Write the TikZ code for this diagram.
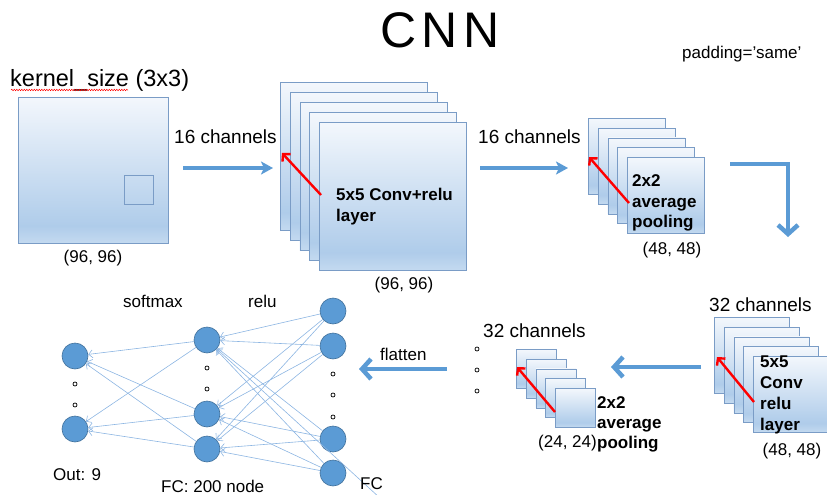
\documentclass[tikz,border=0pt]{standalone}
\usepackage{fontspec}
\setmainfont{Liberation Sans}
\usetikzlibrary{arrows.meta,decorations.pathmorphing}
\definecolor{nodeblue}{HTML}{5B9BD5}
\definecolor{nodeedge}{HTML}{41719C}
\definecolor{boxedge}{HTML}{7A9CC6}
\definecolor{linkblue}{HTML}{8CB5E2}
\definecolor{gTop}{HTML}{F3F7FC}
\definecolor{gDark}{HTML}{AFCCEA}
\definecolor{gBot}{HTML}{C4DAF0}
\pgfdeclareverticalshading{boxgrad}{100bp}{color(0bp)=(gBot); color(25bp)=(gBot); color(31bp)=(gDark); color(75bp)=(gTop); color(100bp)=(gTop)}
\begin{document}
\begin{tikzpicture}[x=1pt,y=-1pt,
  sq/.style={draw=boxedge, line width=0.8pt, shading=boxgrad, inner sep=0pt, anchor=north west},
  neuron/.style={circle, fill=nodeblue, draw=nodeedge, line width=0.6pt, minimum size=26pt, inner sep=0pt},
  dotc/.style={circle, draw=black, fill=white, line width=0.7pt, minimum size=4pt, inner sep=0pt},
  link/.style={draw=linkblue, line width=0.6pt, -{Straight Barb[length=4pt,width=8pt]}},
  redarr/.style={draw=red, line width=2.4pt, -{Straight Barb[length=5pt,width=11pt]}},
  rarr/.style={draw=nodeblue, line width=4pt, -{Stealth[length=12pt,width=13pt,inset=3pt]}},
  bigarr/.style={draw=nodeblue, line width=4.5pt, line join=miter, -{Straight Barb[length=9pt,width=20pt]}},
  lbl/.style={font=\fontsize{17}{21}\selectfont, inner sep=0pt},
  blbl/.style={font=\fontsize{17}{21}\selectfont\bfseries, inner sep=0pt, anchor=base west},
  chl/.style={font=\fontsize{19}{23}\selectfont, inner sep=0pt, anchor=base west}
]
\useasboundingbox (0,0) rectangle (827,495);

% title
\node[inner sep=0pt, anchor=base, font=\fontsize{50}{50}\selectfont\addfontfeatures{LetterSpace=10}] (title) at (440,48) {CNN};
\node[lbl, anchor=base west] (pad) at (682,59) {padding='same'};

% input image
\node[inner sep=0pt, anchor=base west, font=\fontsize{23.5}{28}\selectfont] (ks) at (10,86) {kernel\_size (3x3)};
\draw[red, line width=0.5pt, decorate, decoration={snake, amplitude=0.7pt, segment length=2.5pt}] (11,90) -- (128,90);
\node[sq, minimum width=150pt, minimum height=146pt] (inp) at (18,97) {};
\node[draw=boxedge, line width=0.8pt, inner sep=0pt, minimum width=29pt, minimum height=29pt, anchor=north west] (kern) at (124,175) {};
\node[lbl, anchor=base] (s1) at (93,262) {(96, 96)};

% arrow 1
\node[chl] (ch1) at (174,143) {16 channels};
\coordinate (a1s) at (183,168);
\coordinate (a1e) at (273,168);
\draw[rarr] (a1s) -- (a1e);

% conv stack 1
\foreach \i in {0,...,4}
  \node[sq, minimum width=147pt, minimum height=148pt] (cA\i) at ({280+9.75*\i},{82+10*\i}) {};
\coordinate (r1s) at (321,195);
\coordinate (r1e) at (282,153);
\draw[redarr] (r1s) -- (r1e);
\node[blbl] (t1a) at (336,200) {5x5 Conv+relu};
\node[blbl] (t1b) at (336,221) {layer};
\node[lbl, anchor=base] (s2) at (404,289) {(96, 96)};

% arrow 2
\node[chl] (ch2) at (478,143) {16 channels};
\coordinate (a2s) at (480,168);
\coordinate (a2e) at (568,168);
\draw[rarr] (a2s) -- (a2e);

% pool stack 1
\foreach \i in {0,...,4}
  \node[sq, minimum width=77pt, minimum height=76pt] (pA\i) at ({588+9.75*\i},{118+9.75*\i}) {};
\coordinate (r2s) at (629,203);
\coordinate (r2e) at (589,157);
\draw[redarr] (r2s) -- (r2e);
\node[blbl] (t2a) at (632,186) {2x2};
\node[blbl] (t2b) at (632,207) {average};
\node[blbl] (t2c) at (632,227) {pooling};
\node[lbl, anchor=base] (s3) at (672,254) {(48, 48)};

% bent arrow
\coordinate (b1s) at (730,164);
\coordinate (b1e) at (788,237);
\draw[bigarr] (b1s) -| (b1e);

% conv stack 2
\node[chl] (ch3) at (709,311) {32 channels};
\foreach \i in {0,...,4}
  \node[sq, minimum width=75pt, minimum height=76pt] (cB\i) at ({714+9.75*\i},{317+9.75*\i}) {};
\coordinate (r3s) at (754,402);
\coordinate (r3e) at (717,357);
\draw[redarr] (r3s) -- (r3e);
\node[blbl] (t3a) at (760,367) {5x5};
\node[blbl] (t3b) at (760,388) {Conv};
\node[blbl] (t3c) at (760,409) {relu};
\node[blbl] (t3d) at (760,430) {layer};
\node[lbl, anchor=base] (s4) at (792,455) {(48, 48)};

% left arrow
\coordinate (a3s) at (701,367);
\coordinate (a3e) at (611,367);
\draw[bigarr] (a3s) -- (a3e);

% pool stack 2
\node[chl] (ch4) at (483,337) {32 channels};
\node[dotc] (pd1) at (477,349) {};
\node[dotc] (pd2) at (477,370) {};
\node[dotc] (pd3) at (477,391) {};
\foreach \i in {0,...,4}
  \node[sq, minimum width=40pt, minimum height=39pt] (pB\i) at ({516+9.75*\i},{349+9.75*\i}) {};
\coordinate (r4s) at (555,412);
\coordinate (r4e) at (517,367);
\draw[redarr] (r4s) -- (r4e);
\node[blbl] (t4a) at (597,408) {2x2};
\node[blbl] (t4b) at (597,428) {average};
\node[blbl] (t4c) at (597,448) {pooling};
\node[lbl, anchor=base east] (s5) at (597,447) {(24, 24)};

% flatten arrow
\node[lbl, anchor=base west] (fl) at (380,360) {flatten};
\coordinate (a4s) at (447,369);
\coordinate (a4e) at (359,369);
\draw[bigarr] (a4s) -- (a4e);

% neural net
\node[neuron] (o1) at (75,356) {};
\node[neuron] (o2) at (75,429) {};
\node[dotc] (od1) at (75,384) {};
\node[dotc] (od2) at (75,405) {};
\node[neuron] (h1) at (207,340) {};
\node[neuron] (h2) at (207,414) {};
\node[neuron] (h3) at (207,449) {};
\node[dotc] (hd1) at (207,368) {};
\node[dotc] (hd2) at (207,389) {};
\node[neuron] (i1) at (333,311) {};
\node[neuron] (i2) at (333,346) {};
\node[neuron] (i3) at (333,439) {};
\node[neuron] (i4) at (333,473) {};
\node[dotc] (id1) at (333,374) {};
\node[dotc] (id2) at (333,395) {};
\node[dotc] (id3) at (333,417) {};
\coordinate (ext) at (380,498);

\foreach \h in {h1,h2,h3}
  \foreach \o in {o1,o2}
    \draw[link] (\h) -- (\o);
\foreach \i in {i1,i2,i3,i4}
  \foreach \h in {h1,h2,h3}
    \draw[link] (\i) -- (\h);
\draw[link] (ext) -- (h1);

\node[lbl, anchor=base west] (lsm) at (123,307) {softmax};
\node[lbl, anchor=base west] (lre) at (248,307) {relu};
\node[lbl, anchor=base west] (lout) at (53,480) {Out: 9};
\node[lbl, anchor=base west] (lfc2) at (161,492) {FC: 200 node};
\node[lbl, anchor=base west] (lfc) at (360,489) {FC};
\end{tikzpicture}
\end{document}
